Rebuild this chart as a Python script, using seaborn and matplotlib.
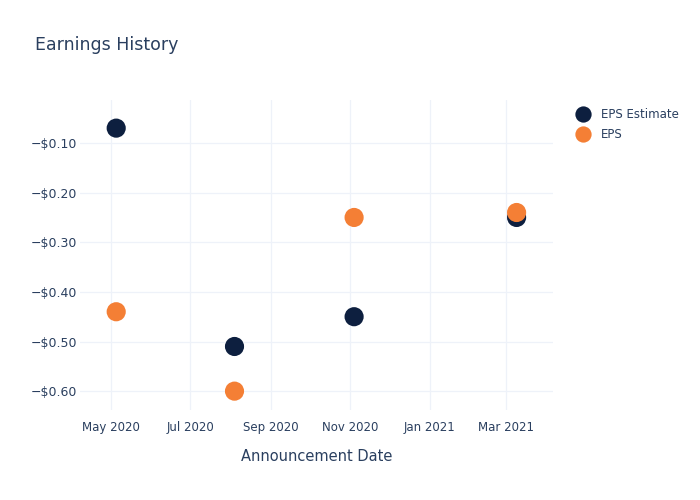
import matplotlib
matplotlib.use("Agg")

import pandas as pd
import matplotlib.pyplot as plt
import matplotlib.dates as mdates
import seaborn as sns

# earnings data
dates = ["2020-05-05", "2020-08-04", "2020-11-04", "2021-03-09"]
eps_estimate = [-0.07, -0.51, -0.45, -0.25]
eps_actual = [-0.44, -0.60, -0.25, -0.24]

df = pd.DataFrame({
    "date": pd.to_datetime(dates * 2),
    "value": eps_estimate + eps_actual,
    "series": ["EPS Estimate"] * len(dates) + ["EPS"] * len(dates),
})

TEXT = "#2a3f5f"
GRID = "#eef2f9"

sns.set_theme(style="white")
plt.rcParams["font.family"] = ["DejaVu Sans"]

fig = plt.figure(figsize=(7, 5), dpi=100)
ax = fig.add_axes([0.114, 0.18, 0.676, 0.62])

sns.scatterplot(
    data=df, x="date", y="value", hue="series",
    palette={"EPS Estimate": "#0d1f3f", "EPS": "#f47f35"},
    s=190, edgecolor="none", ax=ax, zorder=3,
)

ax.set_xlim(pd.Timestamp("2020-04-07"), pd.Timestamp("2021-04-06"))
ax.set_ylim(-0.638, -0.0133)

ax.xaxis.set_major_locator(mdates.MonthLocator(bymonth=[1, 3, 5, 7, 9, 11]))
ax.xaxis.set_major_formatter(mdates.DateFormatter("%b %Y"))
yticks = [-0.1, -0.2, -0.3, -0.4, -0.5, -0.6]
ax.set_yticks(yticks)
ax.set_yticklabels([f"\u2212${abs(v):.2f}" for v in yticks])

ax.grid(True, color=GRID, linewidth=0.9)
for s in ax.spines.values():
    s.set_visible(False)
ax.tick_params(axis="x", length=0, labelsize=8.5, colors=TEXT, pad=8)
ax.tick_params(axis="y", length=0, labelsize=9, colors=TEXT, pad=2)

ax.set_xlabel("Announcement Date", fontsize=10.5, color=TEXT, labelpad=11)
ax.set_ylabel("")
fig.text(0.05, 0.91, "Earnings History", fontsize=12.5, color=TEXT, va="center")

leg = ax.legend(loc="upper left", bbox_to_anchor=(1.016, 1.007), frameon=False,
                fontsize=8.5, handletextpad=0.5, labelspacing=0.55, markerscale=0.85)
for t in leg.get_texts():
    t.set_color(TEXT)

plt.savefig("out.png", dpi=100)
plt.close()
